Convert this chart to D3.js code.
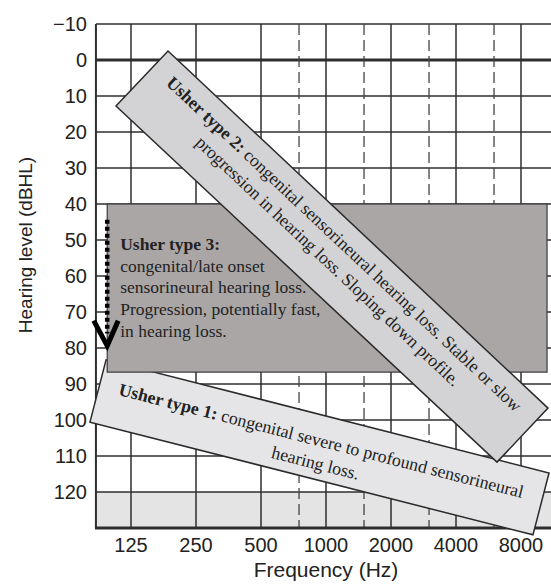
<!DOCTYPE html>
<html><head><meta charset="utf-8">
<script src="https://cdn.jsdelivr.net/npm/d3@7"></script>
<style>body{margin:0;background:#fff}svg{display:block}</style>
</head><body><svg id="c" width="551" height="588"></svg>
<script>
// ---- data ----
const freqTicks = [125, 250, 500, 1000, 2000, 4000, 8000];
const freqHalfOctaves = [750, 1500, 3000, 6000];
const dbTicks = [-10, 0, 10, 20, 30, 40, 50, 60, 70, 80, 90, 100, 110, 120];
const freqExtent = [86, 11300];
const dbExtent = [-10, 130];
const shadedDb = [120, 130];

const type3Freq = [97, 10560];
const type3Db = [40, 86.7];
const type3Lines = [
  [["Usher type 3:", true]],
  [["congenital/late onset", false]],
  [["sensorineural hearing loss.", false]],
  [["Progression, potentially fast,", false]],
  [["in hearing loss.", false]]
];

// corners in (Hz, dBHL): top-left, top-right, bottom-right, bottom-left (in band's frame)
const type2Corners = [[185.5, -2.5], [10669, 96.7], [6194, 111.7], [106.5, 12.8]];
const type2Lines = [
  [["Usher type 2:", true], [" congenital sensorineural hearing loss. Stable or slow", false]],
  [["progression in hearing loss. Sloping down profile.", false]]
];
const type1Corners = [[95.8, 83.3], [10788, 114.7], [9089, 131.9], [80.7, 100.6]];
const type1Lines = [
  [["Usher type 1:", true], [" congenital severe to profound sensorineural", false]],
  [["hearing loss.", false]]
];

const arrowFreq = 97;
const arrowDb = [44.4, 76];
const arrowHead = [[84, 72.4], [97, 79.4], [109, 72.4]];

// ---- scales ----
const x = d3.scaleLog().base(2).domain([125, 8000]).range([131, 521]);
const y = d3.scaleLinear().domain([-10, 130]).range([24, 528]);

const svg = d3.select("#c");
const x0 = x(freqExtent[0]), x1 = x(freqExtent[1]);

// shaded bottom row
svg.append("rect").attr("x", x0).attr("y", y(shadedDb[0]))
  .attr("width", x1 - x0).attr("height", y(shadedDb[1]) - y(shadedDb[0]))
  .attr("fill", "#e4e4e4");

// grid
const grid = svg.append("g").attr("stroke", "#2e2e2e").attr("fill", "none");
grid.selectAll(".h").data(dbTicks).join("line")
  .attr("x1", x0).attr("x2", x1).attr("y1", d => y(d)).attr("y2", d => y(d))
  .attr("stroke-width", d => d === 0 ? 3 : 1.5);
grid.selectAll(".v").data(freqTicks).join("line")
  .attr("x1", d => x(d)).attr("x2", d => x(d)).attr("y1", y(-10)).attr("y2", y(130))
  .attr("stroke-width", 1.5);
grid.selectAll(".vd").data(freqHalfOctaves).join("line")
  .attr("x1", d => x(d)).attr("x2", d => x(d)).attr("y1", y(-10)).attr("y2", y(130))
  .attr("stroke-width", 1.3).attr("stroke-dasharray", "11,5").attr("stroke", "#444");
grid.append("line").attr("x1", x0).attr("x2", x0).attr("y1", y(-10)).attr("y2", y(130)).attr("stroke-width", 2);
grid.append("line").attr("x1", x0 - 1).attr("x2", x1).attr("y1", y(130)).attr("y2", y(130)).attr("stroke-width", 3);

// axis labels
const sans = "'Liberation Sans', Arial, sans-serif";
svg.append("g").selectAll("text").data(dbTicks).join("text")
  .attr("x", 87).attr("y", d => y(d)).attr("dy", "0.36em")
  .attr("text-anchor", "end").attr("font-family", sans).attr("font-size", 20).attr("fill", "#222")
  .text(d => d < 0 ? "\u2212" + Math.abs(d) : d);
svg.append("g").selectAll("text").data(freqTicks).join("text")
  .attr("x", d => x(d)).attr("y", 552)
  .attr("text-anchor", "middle").attr("font-family", sans).attr("font-size", 20).attr("fill", "#222")
  .text(d => d);
svg.append("text").attr("x", 326).attr("y", 577).attr("text-anchor", "middle")
  .attr("font-family", sans).attr("font-size", 21).attr("fill", "#222").text("Frequency (Hz)");
svg.append("text").attr("transform", "translate(32,245) rotate(-90)").attr("text-anchor", "middle")
  .attr("font-family", sans).attr("font-size", 19).attr("fill", "#222").text("Hearing level (dBHL)");

const serif = "'Liberation Serif', 'Times New Roman', serif";
function addRuns(textSel, runs) {
  runs.forEach(([t, b]) => textSel.append("tspan").attr("font-weight", b ? "bold" : "normal").text(t));
}

function band(corners, lines, fill, baselines) {
  const pts = corners.map(([f, d]) => [x(f), y(d)]);
  svg.append("path").attr("d", "M" + pts.map(p => p.join(",")).join("L") + "Z")
    .attr("fill", fill).attr("stroke", "#2a2a2a").attr("stroke-width", 1.5).attr("stroke-linejoin", "miter");
  const cx = d3.mean(pts, p => p[0]), cy = d3.mean(pts, p => p[1]);
  const ang = Math.atan2(pts[1][1] - pts[0][1], pts[1][0] - pts[0][0]) * 180 / Math.PI;
  const g = svg.append("g").attr("transform", `translate(${cx},${cy}) rotate(${ang})`);
  lines.forEach((runs, i) => {
    const t = g.append("text").attr("x", 0).attr("y", baselines[i]).attr("text-anchor", "middle")
      .attr("font-family", serif).attr("font-size", 17.8).attr("fill", "#222");
    addRuns(t, runs);
  });
}

// type 1 band (beneath)
band(type1Corners, type1Lines, "#e5e5e7", [-1, 22]);

// type 3 box
const bx = x(type3Freq[0]), by = y(type3Db[0]);
svg.append("rect").attr("x", bx).attr("y", by)
  .attr("width", x(type3Freq[1]) - bx).attr("height", y(type3Db[1]) - by)
  .attr("fill", "#aaa6a6").attr("stroke", "#3a3a3a").attr("stroke-width", 1.2);
type3Lines.forEach((runs, i) => {
  const t = svg.append("text").attr("x", bx + 13).attr("y", by + 46 + i * 21.7)
    .attr("font-family", serif).attr("font-size", 17.5).attr("fill", "#222");
  addRuns(t, runs);
});

// arrow
svg.append("line").attr("x1", x(arrowFreq)).attr("x2", x(arrowFreq))
  .attr("y1", y(arrowDb[0])).attr("y2", y(arrowDb[1]))
  .attr("stroke", "#000").attr("stroke-width", 4.5).attr("stroke-dasharray", "4,3");
svg.append("path").attr("d", d3.line()(arrowHead.map(([f, d]) => [x(f), y(d)])))
  .attr("fill", "none").attr("stroke", "#000").attr("stroke-width", 5).attr("stroke-linejoin", "miter");

// type 2 band (on top)
band(type2Corners, type2Lines, "#d3d3d5", [-11.5, 12]);
</script></body></html>
